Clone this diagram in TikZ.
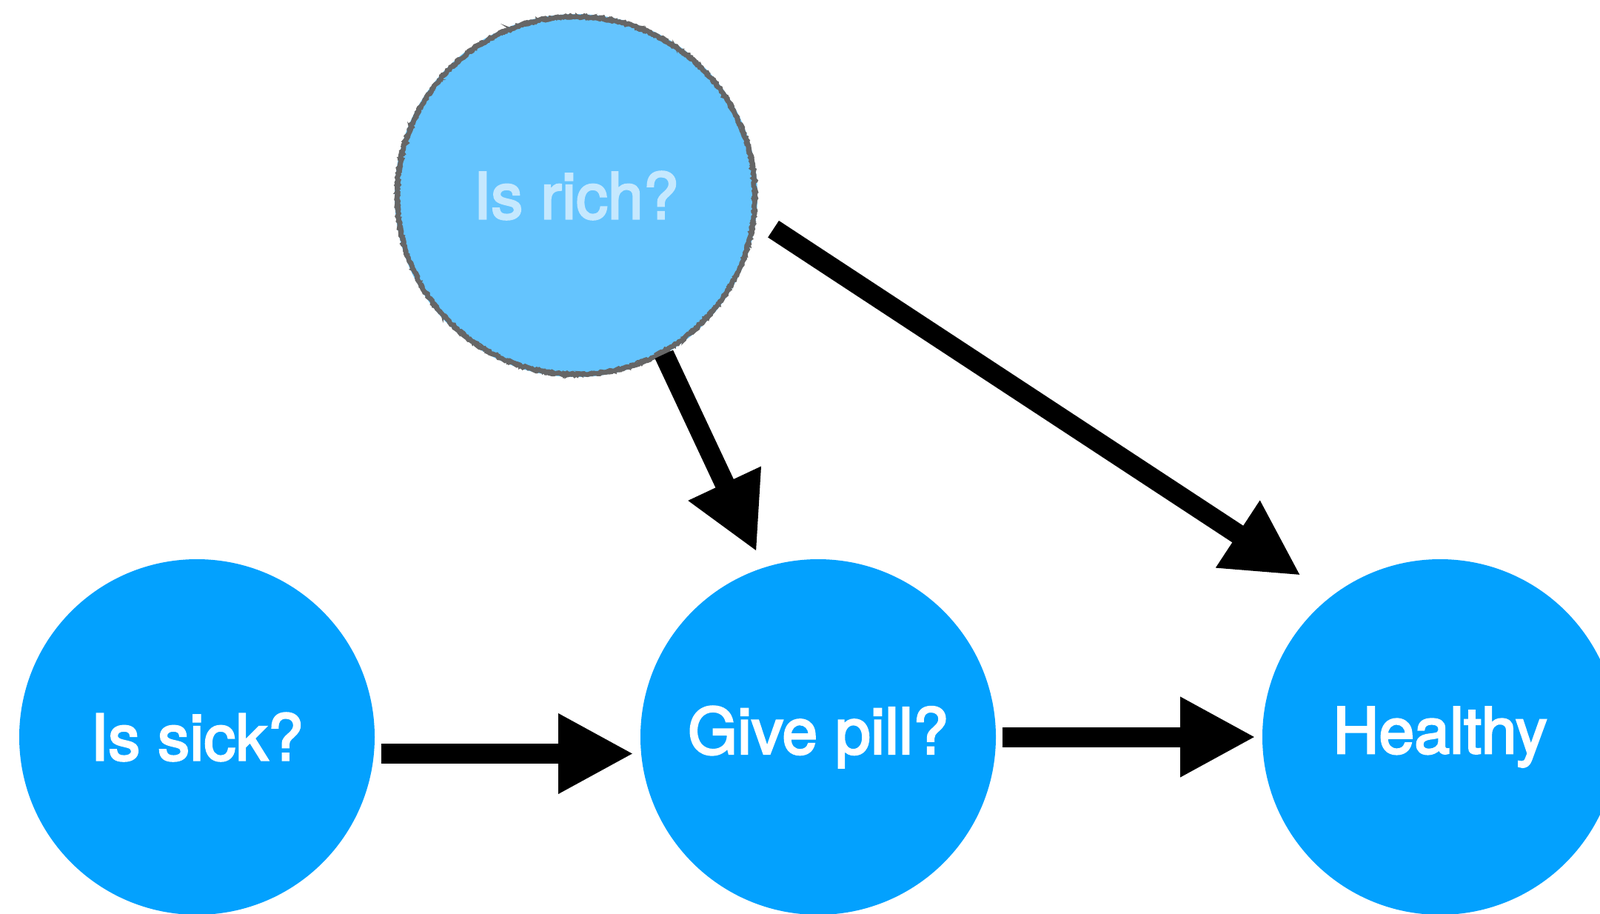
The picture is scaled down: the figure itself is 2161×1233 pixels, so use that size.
\documentclass[tikz,border=0pt]{standalone}
\usepackage{fontspec}
\setmainfont{TeX Gyre Heros}
\newfontfamily\medfont{TeX Gyre Heros}[FakeBold=3]
\usetikzlibrary{arrows.meta,decorations.pathmorphing}
\definecolor{nodeblue}{RGB}{3,161,254}
\definecolor{lightblue}{RGB}{100,196,254}
\definecolor{paletext}{RGB}{197,232,254}
\definecolor{roughgray}{RGB}{102,102,102}
\tikzset{
  bignode/.style={circle, fill=nodeblue, draw=none, minimum size=240pt, inner sep=0pt, outer sep=0pt,
    text=white, font=\medfont\fontsize{43}{50}\selectfont},
  hidden/.style={circle, fill=lightblue, draw=none, minimum size=245pt, inner sep=0pt, outer sep=0pt,
    text=paletext, font=\medfont\fontsize{43}{50}\selectfont},
  rough/.style={draw=roughgray, line width=3.2pt, decorate,
    decoration={random steps, segment length=1.5pt, amplitude=0.7pt}},
  link/.style={line width=13.5pt, -{Triangle[length=51pt,width=50.5pt]}}
}
\begin{document}
\begin{tikzpicture}[x=0.5pt,y=-0.5pt]
\useasboundingbox (0,0) rectangle (2161,1233);
\clip (0,0) rectangle (2161,1233);
\fill[white] (0,0) rectangle (2161,1233);
\node[hidden] (rich) at (778,264) {Is rich?};
\draw[rough] (rich.center) circle[radius=241.5];
\draw[roughgray, line width=1.3pt, decorate, decoration={random steps, segment length=1.2pt, amplitude=1pt}] (rich.center) circle[radius=243];
\draw[roughgray, line width=1pt, decorate, decoration={random steps, segment length=1.2pt, amplitude=0.8pt}] (rich.center) circle[radius=239.5];
\node[bignode] (sick) at (266,995) {Is sick?};
\node[bignode] (pill) at (1105,995) {Give pill?};
\node[bignode] (healthy) at (1945,995) {Healthy};
\coordinate (t1) at (1022,745);
\coordinate (t2) at (1757,777);
\draw[link] (rich.-61) -- (t1);
\draw[link, shorten <=14pt] (rich.-7) -- (t2);
\draw[link, shorten <=4.5pt, shorten >=4.5pt] ([yshift=-11.25pt]sick.east) -- ([yshift=-11.25pt]pill.west);
\draw[link, shorten <=4.5pt, shorten >=4.5pt] (pill.east) -- (healthy.west);
\end{tikzpicture}
\end{document}
